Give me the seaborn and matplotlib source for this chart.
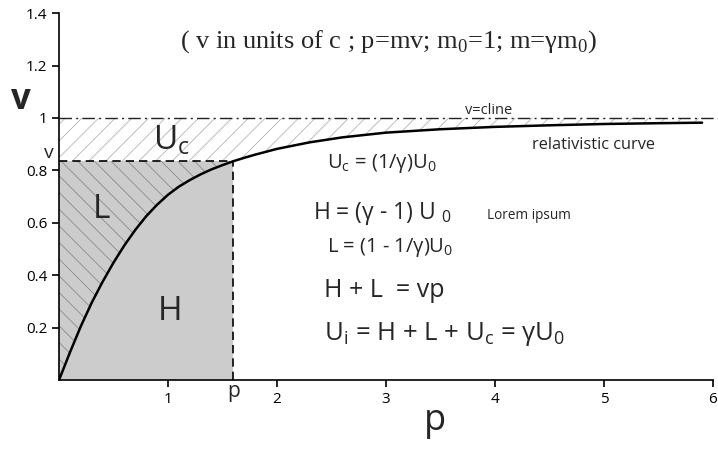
import numpy as np
import seaborn as sns
import matplotlib.pyplot as plt

# momentum p and speed v
p_vals = [0, 0.1, 0.2, 0.3, 0.4, 0.5, 0.6, 0.7, 0.8, 0.9, 1.0, 1.1, 1.2, 1.3,
          1.4, 1.5, 1.6, 1.7, 1.8, 2.0, 2.3, 2.6, 3.0, 3.5, 4.0, 4.5, 5.0, 5.5, 5.9]
v_vals = [0, 0.105, 0.205, 0.295, 0.375, 0.448, 0.514, 0.573, 0.625, 0.669,
          0.707, 0.738, 0.763, 0.785, 0.804, 0.820, 0.835, 0.848, 0.860, 0.882,
          0.907, 0.926, 0.944, 0.957, 0.966, 0.972, 0.977, 0.980, 0.982]
p_point = 1.6
v_point = 0.835
c_line = 1.0

x_ticks = [1, 2, 3, 4, 5, 6]
y_ticks = [0.2, 0.4, 0.6, 0.8, 1.0, 1.2, 1.4]
y_ticklabels = ['0.2', '0.4', '0.6', '0.8', '1', '1.2', '1.4']

sns.set_style('ticks')
plt.rcParams['font.family'] = ['Open Sans', 'DejaVu Sans']
plt.rcParams['hatch.linewidth'] = 0.6

fig = plt.figure(figsize=(7.18, 4.49), dpi=100)
ax = fig.add_axes([0.0822, 0.1537, 0.9108, 0.817])

p_arr = np.array(p_vals)
v_arr = np.array(v_vals)
inside = p_arr <= p_point
hatch_col = '#b4b4b4'

# H + L rectangle
ax.fill_between([0, p_point], 0, v_point, color='#cccccc', lw=0, zorder=1)
# L region hatch (left of curve, below v)
ax.fill_betweenx(v_arr[inside], 0, p_arr[inside], facecolor='none',
                 edgecolor='#8a8a8a', hatch='\\\\', lw=0, zorder=2)
# Uc region hatch (above curve / v level, below c)
ax.fill_between(p_arr, np.maximum(v_arr, v_point), c_line, facecolor='none',
                edgecolor=hatch_col, hatch='//', lw=0, zorder=2)

sns.lineplot(x=p_vals, y=v_vals, color='black', lw=1.8, ax=ax, zorder=4)

ax.plot([0, 6.1], [c_line, c_line], color='#222222', lw=1.0,
        ls=(0, (9, 3, 1.5, 3)), clip_on=False, zorder=3)
ax.plot([0, p_point], [v_point, v_point], color='black', lw=1.2,
        ls=(0, (5, 3)), zorder=3)
ax.plot([p_point, p_point], [0, v_point], color='black', lw=1.2,
        ls=(0, (5, 3)), zorder=3)

ax.set_xlim(0, 6)
ax.set_ylim(0, 1.4)
ax.set_xticks(x_ticks)
ax.set_yticks(y_ticks)
ax.set_yticklabels(y_ticklabels)
ax.tick_params(labelsize=11, length=5, width=1.2, colors='black')
for s in ['top', 'right']:
    ax.spines[s].set_visible(False)
for s in ['left', 'bottom']:
    ax.spines[s].set_linewidth(1.2)
    ax.spines[s].set_color('black')

# axis labels
ax.text(-0.35, 1.07, 'v', fontsize=25, fontweight='bold', ha='center', va='center', clip_on=False)
ax.text(3.45, -0.155, 'p', fontsize=26, ha='center', va='center', clip_on=False)
ax.text(-0.09, v_point + 0.03, 'v', fontsize=14, ha='center', va='center', clip_on=False)
ax.text(p_point, -0.045, 'p', fontsize=15, ha='center', va='center', clip_on=False)

# region labels
ax.text(1.03, 0.915, r'U$_\mathregular{c}$', fontsize=24, ha='center', va='center')
ax.text(0.39, 0.65, 'L', fontsize=24, ha='center', va='center')
ax.text(1.02, 0.26, 'H', fontsize=24, ha='center', va='center')

ax.text(3.02, 1.29, r'( v in units of c ; p=mv; m$_\mathregular{0}$=1; m=γm$_\mathregular{0}$)',
        fontsize=19, ha='center', va='center',
        family=['Liberation Serif', 'DejaVu Serif'])

ax.text(3.94, 1.03, 'v=cline', fontsize=10.5, ha='center', va='center')
ax.text(4.9, 0.895, 'relativistic curve', fontsize=11.8, ha='center', va='center')

ax.text(2.46, 0.825, r'U$_\mathregular{c}$ = (1/γ)U$_\mathregular{0}$', fontsize=14.5, ha='left', va='center')
ax.text(2.33, 0.635, r'H = (γ - 1) U $_\mathregular{0}$', fontsize=16.5, ha='left', va='center')
ax.text(3.93, 0.627, 'Lorem ipsum', fontsize=9.8, ha='left', va='center')
ax.text(2.46, 0.505, r'L = (1 - 1/γ)U$_\mathregular{0}$', fontsize=14.5, ha='left', va='center')
ax.text(2.43, 0.343, 'H + L  = vp', fontsize=18, ha='left', va='center')
ax.text(2.43, 0.175, r'U$_\mathregular{i}$ = H + L + U$_\mathregular{c}$ = γU$_\mathregular{0}$',
        fontsize=18.5, ha='left', va='center')

fig.savefig('out.png', dpi=100)
